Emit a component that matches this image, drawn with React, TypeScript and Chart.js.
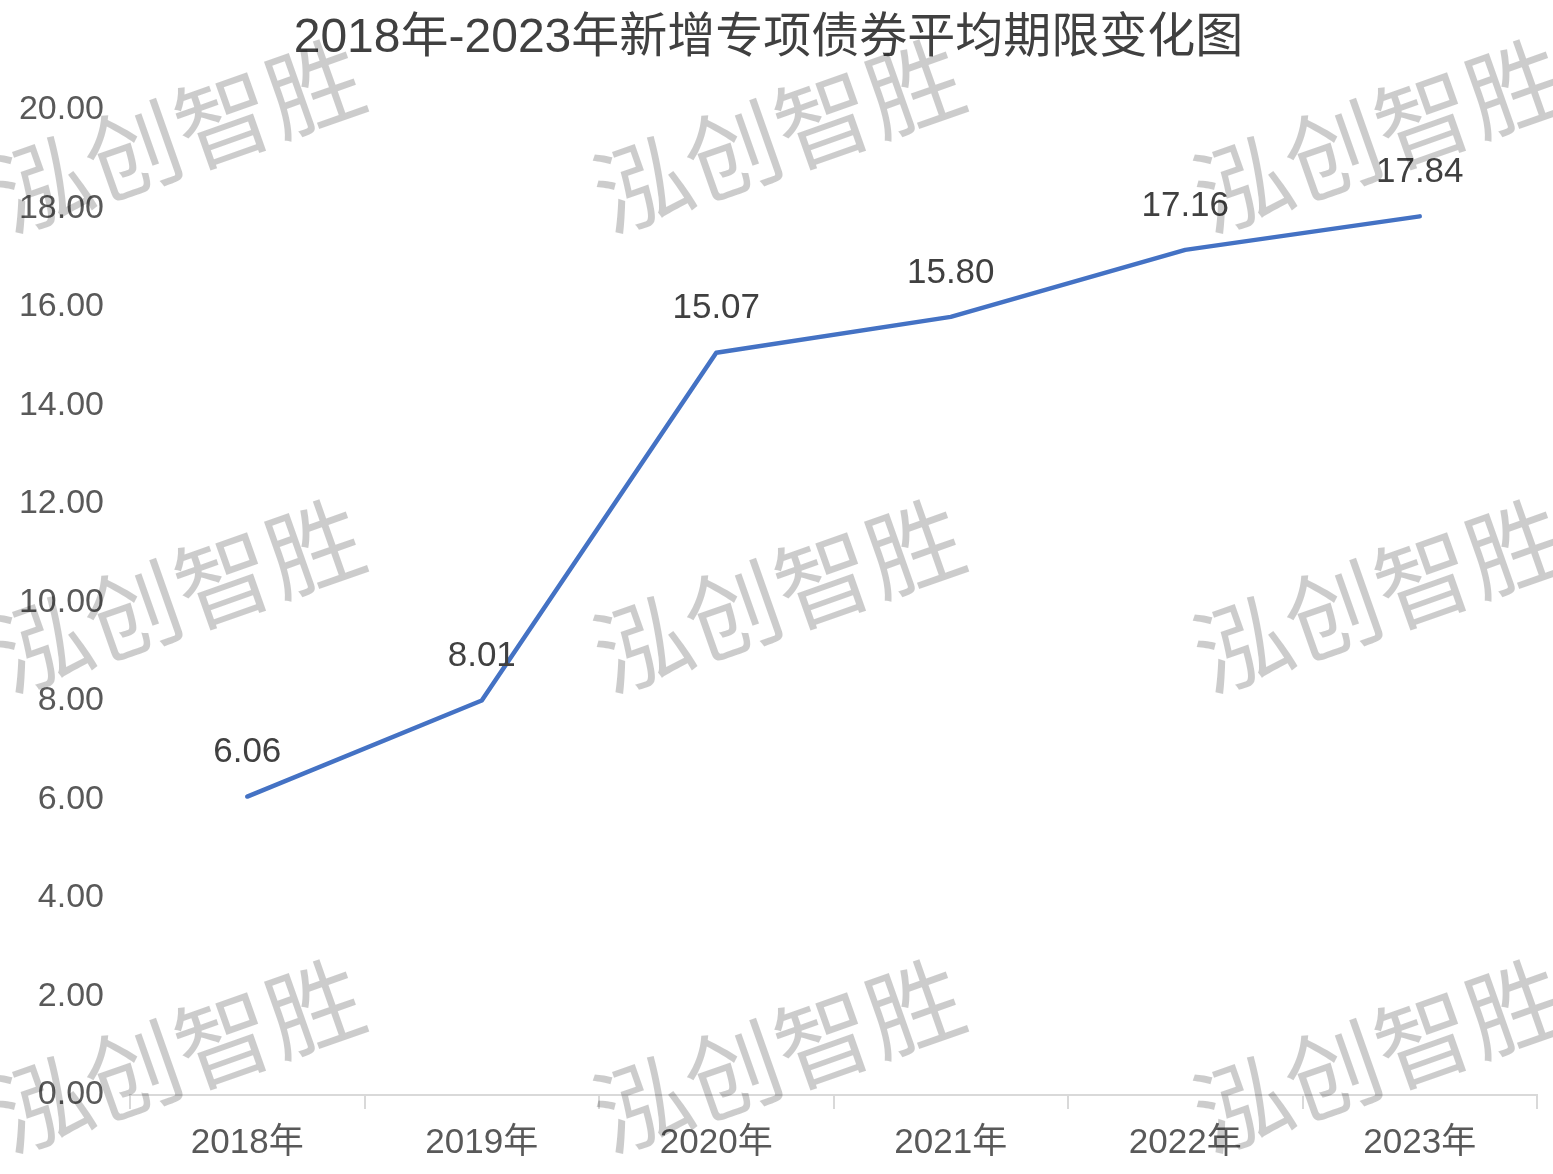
import React, { useEffect, useRef } from "react";
import { Chart, registerables } from "chart.js";

Chart.register(...registerables);

const categories = ["2018年", "2019年", "2020年", "2021年", "2022年", "2023年"];
const avgTerm = [6.06, 8.01, 15.07, 15.8, 17.16, 17.84];
const titleText = "2018年-2023年新增专项债券平均期限变化图";
const watermarkText = "泓创智胜";

const FONT = '"Liberation Sans", Arial, "Noto Sans CJK SC", sans-serif';

const watermarkPlugin = {
  id: "watermark",
  afterDraw(chart: any) {
    const ctx = chart.ctx;
    const cols = [178, 778, 1378];
    const rows = [135, 595, 1055];
    ctx.save();
    ctx.fillStyle = "rgba(0,0,0,0.2)";
    ctx.font = `96px "Noto Sans CJK SC", sans-serif`;
    ctx.textAlign = "center";
    ctx.textBaseline = "middle";
    for (const cy of rows) {
      for (const cx of cols) {
        ctx.save();
        ctx.translate(cx, cy);
        ctx.rotate(-0.34);
        ctx.fillText(watermarkText, 0, 0);
        ctx.restore();
      }
    }
    ctx.restore();
  },
};

const dataLabelPlugin = {
  id: "dataLabels",
  afterDatasetsDraw(chart: any) {
    const ctx = chart.ctx;
    const meta = chart.getDatasetMeta(0);
    ctx.save();
    ctx.fillStyle = "#404040";
    ctx.font = `35px ${FONT}`;
    ctx.textAlign = "center";
    ctx.textBaseline = "middle";
    meta.data.forEach((pt: any, i: number) => {
      const v = chart.data.datasets[0].data[i] as number;
      ctx.fillText(v.toFixed(2), pt.x, pt.y - 44);
    });
    ctx.restore();
  },
};

export default function App() {
  const ref = useRef<HTMLCanvasElement | null>(null);
  useEffect(() => {
    if (!ref.current) return;
    const chart = new Chart(ref.current, {
      type: "line",
      data: {
        labels: categories,
        datasets: [
          {
            data: avgTerm,
            borderColor: "#4472C4",
            borderWidth: 4.5,
            pointRadius: 0,
            borderCapStyle: "round",
            borderJoinStyle: "round",
            tension: 0,
            fill: false,
          },
        ],
      },
      options: {
        animation: false,
        responsive: false,
        maintainAspectRatio: false,
        layout: { padding: { left: 0, right: 16, top: 0, bottom: 0 } },
        plugins: {
          legend: { display: false },
          tooltip: { enabled: false },
          title: {
            display: true,
            text: titleText,
            color: "#404040",
            font: { family: FONT, size: 48, weight: "normal" },
            padding: { top: 10, bottom: 42.4 },
          },
        },
        scales: {
          x: {
            offset: true,
            grid: {
              offset: true,
              drawOnChartArea: false,
              drawTicks: true,
              tickLength: 14,
              color: "#d9d9d9",
              lineWidth: 2,
            },
            border: { display: true, color: "#d9d9d9", width: 2 },
            ticks: {
              color: "#595959",
              font: { family: FONT, size: 35 },
              padding: 13,
              maxRotation: 0,
            },
            afterFit(scale: any) {
              scale.height = 79;
            },
          },
          y: {
            min: 0,
            max: 20,
            grid: { display: false, drawTicks: false },
            border: { display: false },
            ticks: {
              stepSize: 2,
              color: "#595959",
              font: { family: FONT, size: 34 },
              padding: 26,
              callback: (v: any) => Number(v).toFixed(2),
            },
            afterFit(scale: any) {
              scale.width = 130;
            },
          },
        },
      },
      plugins: [dataLabelPlugin, watermarkPlugin],
    });
    return () => chart.destroy();
  }, []);
  return (
    <div style={{ position: "fixed", left: 0, top: 0, width: 1553, height: 1174, background: "#fff" }}>
      <canvas ref={ref} width={1553} height={1174} style={{ width: 1553, height: 1174 }} />
    </div>
  );
}
